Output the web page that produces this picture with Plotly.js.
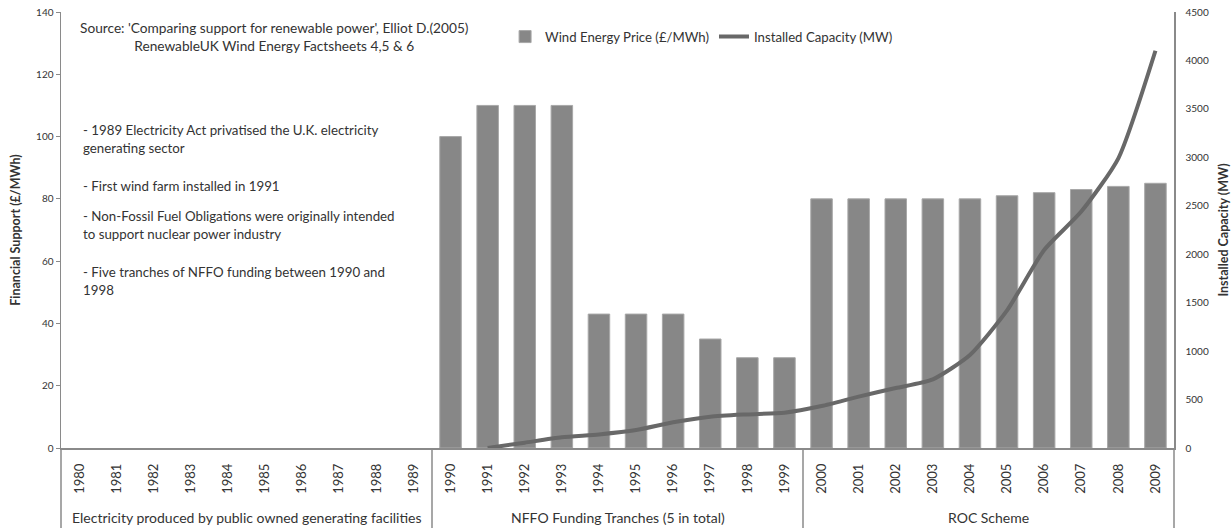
<!DOCTYPE html>
<html>
<head>
<meta charset="utf-8">
<script src="https://cdn.plot.ly/plotly-3.0.1.min.js"></script>
<style>html,body{margin:0;padding:0;background:#fff;}#chart{width:1231px;height:528px;}</style>
</head>
<body>
<div id="chart"></div>
<script>
var years = ['1980','1981','1982','1983','1984','1985','1986','1987','1988','1989',
             '1990','1991','1992','1993','1994','1995','1996','1997','1998','1999',
             '2000','2001','2002','2003','2004','2005','2006','2007','2008','2009'];
var windPrice = [null,null,null,null,null,null,null,null,null,null,
                 100,110,110,110,43,43,43,35,29,29,
                 80,80,80,80,80,81,82,83,84,85];
var installedCapacity = [null,null,null,null,null,null,null,null,null,null,
                         null,0,55,110,140,185,265,323,347,365,
                         433,530,619,709,960,1420,2044,2440,2990,4100];
var groupLabels = ['Electricity produced by public owned generating facilities',
                   'NFFO Funding Tranches (5 in total)',
                   'ROC Scheme'];
var groupCenters = [4.5, 14.5, 24.5];
var groupSeparators = [9.5, 19.5];
var sourceLines = ["Source: 'Comparing support for renewable power', Elliot D.(2005)",
                   "RenewableUK Wind Energy Factsheets 4,5 & 6"];
var noteLines = ["- 1989 Electricity Act privatised the U.K. electricity",
                 "generating sector",
                 "- First wind farm installed in 1991",
                 "- Non-Fossil Fuel Obligations were originally intended",
                 "to support nuclear power industry",
                 "- Five tranches of NFFO funding between 1990 and",
                 "1998"];
var notePixelY = [130,148,186,216,234,272,290];

var FONT = 'Lato, "Open Sans", sans-serif';
var TXT = '#333333';
var AX = '#8a8a8a';

var plotTop = 12, plotBottom = 448, plotH = plotBottom - plotTop;
function py(p){ return (plotBottom - p) / plotH; }

var traces = [
  {
    type: 'bar', name: 'Wind Energy Price (£/MWh)',
    x: years, y: windPrice,
    marker: {color: '#878787', line: {color: '#a8a8a8', width: 1}},
    yaxis: 'y'
  },
  {
    type: 'scatter', mode: 'lines', name: 'Installed Capacity (MW)',
    x: years, y: installedCapacity,
    line: {color: '#686868', width: 4, shape: 'spline', smoothing: 0.6},
    yaxis: 'y2', connectgaps: false
  }
];

var annotations = [];
annotations.push({xref:'paper', yref:'paper', x:0.192, y:py(36), xanchor:'center', yanchor:'middle',
  text: sourceLines.join('<br>'), showarrow:false, align:'center',
  font:{family:FONT, size:13.7, color:TXT}});
for (var i=0;i<noteLines.length;i++){
  annotations.push({xref:'paper', yref:'paper', x:0.0184, y:py(notePixelY[i]), xanchor:'left', yanchor:'middle',
    text: noteLines[i], showarrow:false, align:'left',
    font:{family:FONT, size:13.3, color:TXT}});
}
for (var g=0; g<groupLabels.length; g++){
  annotations.push({xref:'x', yref:'paper', x:groupCenters[g], y:py(517), xanchor:'center', yanchor:'middle',
    text: groupLabels[g], showarrow:false, font:{family:FONT, size:14, color:TXT}});
}

var shapes = [];
for (var s=0; s<groupSeparators.length; s++){
  shapes.push({type:'line', xref:'x', yref:'paper', x0:groupSeparators[s], x1:groupSeparators[s],
    y0:0, y1:py(528), line:{color:AX, width:1.5}});
}
shapes.push({type:'line', xref:'paper', yref:'paper', x0:0, x1:0, y0:0, y1:py(528), line:{color:AX, width:1.5}});
shapes.push({type:'line', xref:'paper', yref:'paper', x0:1, x1:1, y0:0, y1:py(528), line:{color:AX, width:1.5}});

var layout = {
  width: 1231, height: 528,
  margin: {l: 61, r: 57, t: plotTop, b: 528 - plotBottom, pad: 0},
  paper_bgcolor: '#ffffff', plot_bgcolor: '#ffffff',
  font: {family: FONT, color: TXT},
  bargap: 0.42,
  showlegend: true,
  legend: {orientation: 'h', x: 0.399, y: py(37), xanchor: 'left', yanchor: 'middle',
           font: {family: FONT, size: 13.2, color: TXT}, bgcolor: 'rgba(0,0,0,0)', itemwidth: 30, tracegroupgap: 0},
  xaxis: {
    type: 'category', tickangle: -90,
    showline: true, linecolor: AX, linewidth: 1.5,
    showgrid: false, zeroline: false, ticks: '',
    tickfont: {family: FONT, size: 13, color: TXT},
    ticklabelstandoff: 9,
    range: [-0.5, 29.5], fixedrange: true
  },
  yaxis: {
    range: [0, 140], dtick: 20, showgrid: false, zeroline: false,
    showline: true, linecolor: AX, linewidth: 1.5,
    ticks: 'outside', ticklen: 4, tickcolor: AX,
    tickfont: {family: FONT, size: 10, color: TXT},
    title: {text: 'Financial Support (£/MWh)', standoff: 12,
            font: {family: FONT, size: 12.5, color: TXT, weight: 'bold'}}
  },
  yaxis2: {
    range: [0, 4500], dtick: 500, overlaying: 'y', side: 'right',
    showgrid: false, zeroline: false,
    showline: true, linecolor: AX, linewidth: 1.5,
    ticks: '', tickfont: {family: FONT, size: 10, color: TXT},
    ticklabelstandoff: 8,
    title: {text: 'Installed Capacity (MW)', standoff: 12,
            font: {family: FONT, size: 12.5, color: TXT, weight: 'bold'}}
  },
  annotations: annotations,
  shapes: shapes
};

Plotly.newPlot('chart', traces, layout, {displayModeBar: false, staticPlot: true});
</script>
</body>
</html>
